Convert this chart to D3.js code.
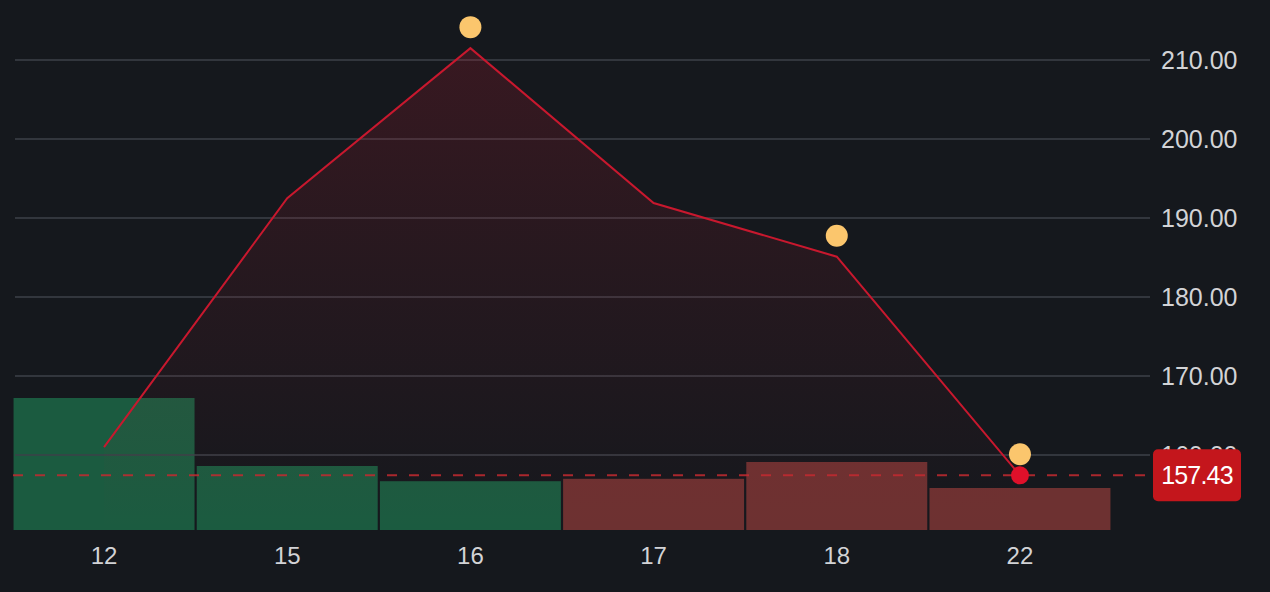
<!DOCTYPE html>
<html><head><meta charset="utf-8">
<script src="https://cdn.jsdelivr.net/npm/d3@7/dist/d3.min.js"></script>
<style>
html,body{margin:0;padding:0;background:#15181d;}
svg{display:block;}
</style></head>
<body><svg id="c" width="1270" height="592"></svg>
<script>
const categories = ["12","15","16","17","18","22"];
const prices = [161.0, 192.5, 211.5, 191.9, 185.1, 157.43];
const volumes = [3.30, 1.60, 1.22, 1.28, 1.70, 1.05];
const volDir = ["up","up","up","down","down","down"];
const markerCats = ["16","18","22"];
const lastPrice = 157.43;
const yTicks = [160,170,180,190,200,210];

const FONT = "'Liberation Sans', Arial, sans-serif";
const svg = d3.select("#c");
const W = 1270, H = 592;
svg.append("rect").attr("width",W).attr("height",H).attr("fill","#15181d");

const x = d3.scaleBand().domain(categories).range([13,1111]).paddingInner(0.012).paddingOuter(0.003);
const y = d3.scaleLinear().domain([160,210]).range([455,60]);
const vol = d3.scaleLinear().domain([0,3.30]).range([530,398]);
const cx = c => x(c) + x.bandwidth()/2;
const data = categories.map((c,i)=>({c, p:prices[i], v:volumes[i], d:volDir[i]}));

// volume bars
svg.append("g").selectAll("rect").data(data).join("rect")
  .attr("x", d=>x(d.c)).attr("width", x.bandwidth())
  .attr("y", d=>vol(d.v)).attr("height", d=>vol(0)-vol(d.v))
  .attr("fill", d=>d.d==="up" ? "#1b5b40" : "#6d3131");

// gridlines
svg.append("g").selectAll("line").data(yTicks).join("line")
  .attr("x1",15).attr("x2",1150)
  .attr("y1",d=>y(d)).attr("y2",d=>y(d))
  .attr("stroke","#3d4149").attr("stroke-width",1.6);

// area gradient
const defs = svg.append("defs");
const g = defs.append("linearGradient").attr("id","ag")
  .attr("gradientUnits","userSpaceOnUse").attr("x1",0).attr("x2",0).attr("y1",y(211.5)).attr("y2",530);
g.append("stop").attr("offset",0).attr("stop-color","#c41a30").attr("stop-opacity",0.2);
g.append("stop").attr("offset",0.45).attr("stop-color","#c41a30").attr("stop-opacity",0.1);
g.append("stop").attr("offset",1).attr("stop-color","#c41a30").attr("stop-opacity",0.0);

const area = d3.area().x(d=>cx(d.c)).y0(530).y1(d=>y(d.p));
svg.append("path").datum(data).attr("d",area).attr("fill","url(#ag)");

// dashed last price line
svg.append("line").attr("x1",13).attr("x2",1150)
  .attr("y1",y(lastPrice)).attr("y2",y(lastPrice))
  .attr("stroke","#c42a30").attr("stroke-width",2).attr("stroke-dasharray","10,12").attr("opacity",0.85);

// line
const line = d3.line().x(d=>cx(d.c)).y(d=>y(d.p));
svg.append("path").datum(data).attr("d",line).attr("fill","none")
  .attr("stroke","#c8182e").attr("stroke-width",2);

// markers
svg.append("g").selectAll("circle").data(data.filter(d=>markerCats.includes(d.c))).join("circle")
  .attr("cx",d=>cx(d.c)).attr("cy",d=>y(d.p)-21).attr("r",11).attr("fill","#fbc66d");

// last point
svg.append("circle").attr("cx",cx(categories[categories.length-1])).attr("cy",y(lastPrice)).attr("r",9).attr("fill","#e0102a");

// y axis labels
const yAxis = d3.axisRight(y).tickValues(yTicks).tickFormat(d3.format(".2f")).tickSize(0).tickPadding(0);
const ya = svg.append("g").attr("transform","translate(1161,0)").call(yAxis);
ya.select(".domain").remove();
ya.selectAll("text").attr("fill","#d2d3d6").style("font-family",FONT).style("font-size","25px").attr("dy","0.35em");

// x axis labels
const xAxis = d3.axisBottom(x).tickSize(0).tickPadding(0);
const xa = svg.append("g").attr("transform","translate(0,556)").call(xAxis);
xa.select(".domain").remove();
xa.selectAll("text").attr("fill","#d2d3d6").style("font-family",FONT).style("font-size","24px").attr("dy","0.35em");

// last price label
const lg = svg.append("g").attr("transform",`translate(1153,${y(lastPrice)})`);
lg.append("rect").attr("x",0).attr("y",-26).attr("width",88).attr("height",52).attr("rx",5).attr("fill","#c4161c");
lg.append("text").attr("x",44).attr("y",0).attr("dy","0.36em").attr("text-anchor","middle")
  .attr("fill","#ffffff").style("font-family",FONT).style("font-size","25px")
  .style("letter-spacing","-0.8px").text(d3.format(".2f")(lastPrice));
</script></body></html>
